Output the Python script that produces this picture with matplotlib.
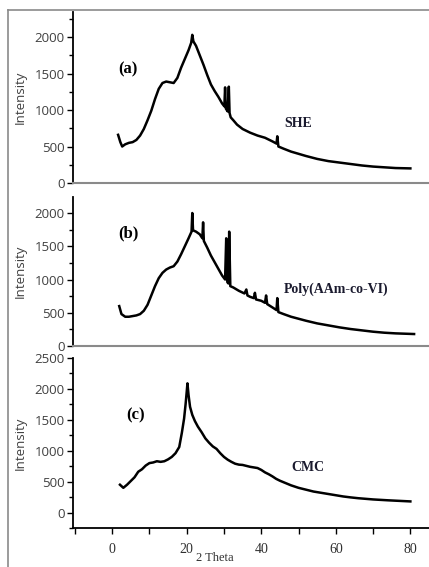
import matplotlib
matplotlib.use("Agg")
import matplotlib.pyplot as plt
from matplotlib.lines import Line2D
from matplotlib.ticker import MultipleLocator

# XRD patterns (2 theta, intensity)
a_x = [1.6, 2.2, 2.7, 3.5, 4.5, 5.5, 6.5, 7.5, 8.5, 9.5, 10.5, 11.5, 12.5, 13.5, 14.5, 15.5, 16.5,
       17.5, 18.5, 19.5, 20.5, 21.2, 21.5, 21.8, 22.5, 23.5, 24.5, 25.5, 26.5, 27.5, 28.5, 29.5,
       30.1, 30.3, 30.5, 31.0, 31.3, 31.5, 31.8, 32.5, 33.5, 35, 37, 39, 41, 43, 44.1, 44.3, 44.6,
       46, 48, 50, 52, 55, 58, 61, 64, 67, 70, 73, 76, 80]
a_y = [660, 560, 500, 530, 550, 560, 590, 650, 740, 860, 990, 1150, 1290, 1370, 1390, 1380, 1370,
       1440, 1580, 1700, 1820, 1920, 2030, 1940, 1880, 1750, 1620, 1480, 1350, 1260, 1180, 1090,
       1050, 1310, 1020, 980, 1320, 960, 900, 860, 800, 740, 690, 650, 620, 570, 540, 640, 500,
       470, 430, 400, 370, 330, 300, 280, 260, 240, 225, 215, 205, 200]

b_x = [1.9, 2.5, 3.5, 4.5, 5.5, 6.5, 7.5, 8.5, 9.5, 10.5, 11.5, 12.5, 13.5, 14.5, 15.5, 16.5, 17.5,
       18.5, 19.5, 20.5, 21.3, 21.5, 21.7, 22.5, 23.5, 24.2, 24.4, 24.6, 25.5, 26.5, 27.5, 28.5,
       29.5, 30.3, 30.6, 30.9, 31.2, 31.4, 31.7, 32.5, 34, 35.5, 36.0, 36.3, 37, 38, 38.3, 38.6,
       40, 41.0, 41.3, 41.6, 43, 44.1, 44.3, 44.6, 46, 48, 50, 52, 55, 58, 61, 64, 67, 70, 73, 76, 81]
b_y = [600, 480, 440, 440, 450, 460, 480, 530, 620, 760, 900, 1020, 1100, 1150, 1180, 1200, 1270,
       1380, 1500, 1620, 1720, 2000, 1740, 1720, 1680, 1620, 1860, 1580, 1480, 1360, 1260, 1160,
       1060, 1000, 1620, 960, 940, 1720, 900, 880, 830, 790, 850, 760, 740, 720, 800, 700,
       680, 650, 760, 630, 580, 540, 720, 510, 480, 440, 410, 380, 340, 310, 280, 255, 235, 215, 200, 190, 180]

c_x = [2.1, 3, 4, 5, 6, 7, 8, 9, 10, 11, 12, 13, 14, 15, 16, 17, 18, 18.7, 19.3, 19.7, 20.0, 20.2,
       20.5, 20.9, 21.5, 22.2, 23, 24, 25, 26, 27, 28, 29, 30, 31, 32, 33, 34, 35, 36, 37, 38, 39,
       40, 41, 42, 43, 44, 45, 46, 47, 48, 50, 52, 54, 56, 58, 60, 62, 64, 66, 68, 70, 72, 74, 76, 78, 80]
c_y = [450, 400, 450, 510, 570, 660, 700, 760, 800, 810, 830, 820, 830, 860, 900, 960, 1060, 1290,
       1520, 1750, 1950, 2090, 1900, 1710, 1580, 1480, 1390, 1300, 1200, 1130, 1070, 1030, 960, 900,
       855, 820, 790, 775, 770, 755, 740, 730, 720, 690, 650, 620, 585, 545, 515, 490, 465, 440, 400,
       370, 340, 320, 300, 280, 260, 245, 232, 222, 212, 205, 198, 192, 186, 180]

x_ticks = [0, 20, 40, 60, 80]

W, H = 429, 567
fig = plt.figure(figsize=(W / 100, H / 100), dpi=100)
gray = "#8a8a8a"
sans = ["Open Sans", "DejaVu Sans"]
serif = "Liberation Serif"


def px_axes(top, bottom, left=73, right=429):
    return fig.add_axes([left / W, 1 - bottom / H, (right - left) / W, (bottom - top) / H])


def style(ax, ylim, last=False):
    ax.set_xlim(-10.5, 85)
    ax.set_ylim(*ylim)
    ax.patch.set_alpha(0)
    for s in ("top", "right"):
        ax.spines[s].set_visible(False)
    ax.spines["left"].set_linewidth(1.3)
    ax.yaxis.set_major_locator(MultipleLocator(500))
    ax.yaxis.set_minor_locator(MultipleLocator(250))
    ax.tick_params(axis="y", which="major", length=4, width=1, labelsize=9.5,
                   labelcolor="#404040", pad=2)
    ax.tick_params(axis="y", which="minor", length=3, width=1)
    for lab in ax.get_yticklabels():
        lab.set_family(sans)
    ax.set_ylabel("Intensity", family=sans, fontsize=9.5, color="#404040")
    ax.yaxis.set_label_coords(-0.13, 0.5)
    if last:
        ax.spines["bottom"].set_linewidth(1.3)
        ax.set_xticks(x_ticks)
        ax.xaxis.set_minor_locator(MultipleLocator(10))
        ax.tick_params(axis="x", which="both", length=4, width=1, labelsize=10,
                       labelcolor="#303030", pad=7)
        for lab in ax.get_xticklabels():
            lab.set_family(serif)
    else:
        ax.spines["bottom"].set_color(gray)
        ax.spines["bottom"].set_linewidth(1.5)
        ax.set_xticks([])


ax_a = px_axes(12, 183)
ax_a.plot(a_x, a_y, color="black", lw=1.8)
style(ax_a, (0, 2343))
ax_a.text(4.3, 1550, "(a)", family=serif, weight="bold", fontsize=12, ha="center", va="center")
ax_a.text(50, 822, "SHE", family=serif, weight="bold", fontsize=10, ha="center", va="center",
          color="#1a1a2e")

ax_b = px_axes(197, 346)
ax_b.plot(b_x, b_y, color="black", lw=1.8)
style(ax_b, (0, 2241))
ax_b.text(4.3, 1700, "(b)", family=serif, weight="bold", fontsize=12, ha="center", va="center")
ax_b.text(60, 857, "Poly(AAm-co-VI)", family=serif, weight="bold", fontsize=10, ha="center",
          va="center", color="#1a1a2e")

ax_c = px_axes(358, 528)
ax_c.plot(c_x, c_y, color="black", lw=1.8)
style(ax_c, (-250, 2500), last=True)
ax_c.text(6.4, 1565, "(c)", family=serif, weight="bold", fontsize=12, ha="center", va="center")
ax_c.text(52.6, 726, "CMC", family=serif, weight="bold", fontsize=10, ha="center", va="center",
          color="#1a1a2e")

fig.text(215 / W, 1 - 558 / H, "2 Theta", family=serif, fontsize=9, color="#303030",
         ha="center", va="center")

# outer frame of the picture
fig.add_artist(Line2D([8 / W, 8 / W], [0, 1 - 10 / H], color=gray, lw=1.2))
fig.add_artist(Line2D([8 / W, 1], [1 - 10 / H, 1 - 10 / H], color=gray, lw=1.2))

fig.savefig("out.png", dpi=100)
